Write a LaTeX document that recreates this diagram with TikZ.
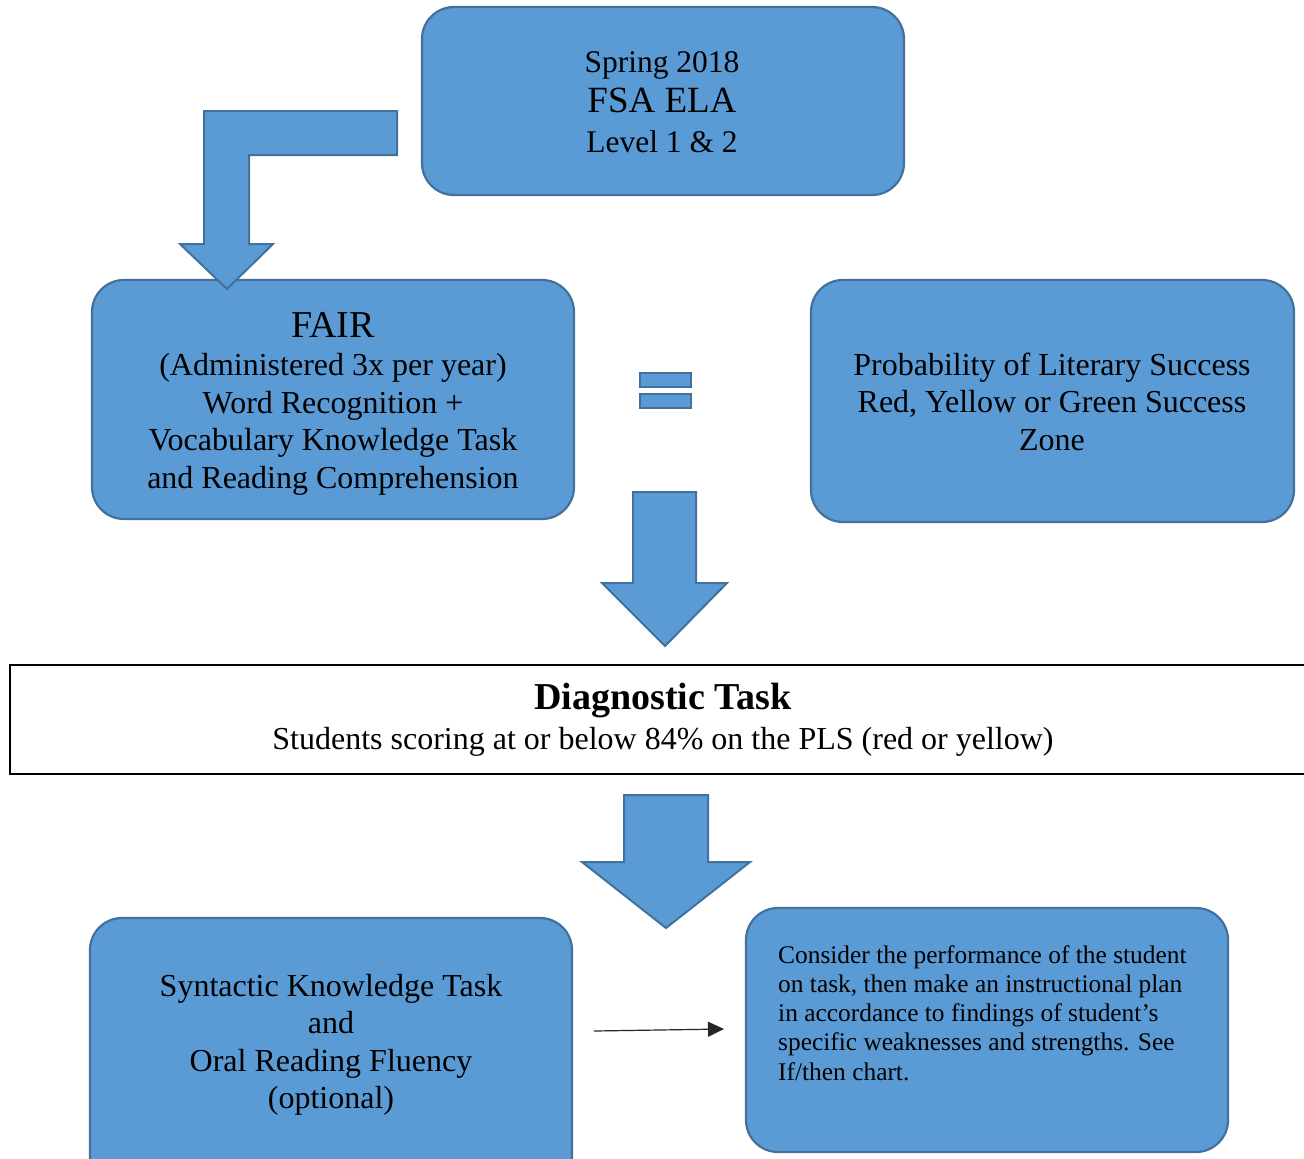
\documentclass[tikz,border=0pt]{standalone}
\usepackage{fontspec}
\usetikzlibrary{arrows.meta}
\setmainfont{Liberation Serif}
\definecolor{boxfill}{HTML}{5B9BD5}
\definecolor{boxline}{HTML}{41719C}
\begin{document}
\begin{tikzpicture}[x=1pt,y=-1pt,
  rbox/.style={draw=boxline, fill=boxfill, line width=2.2pt, rounded corners=32pt},
  barrow/.style={draw=boxline, fill=boxfill, line width=2pt, line join=miter},
  txt/.style={align=center, text=black, inner sep=0pt},
  big/.style={font=\fontsize{32}{37.5}\selectfont}
]
\useasboundingbox[fill=white] (0,0) rectangle (1304,1159);

% boxes
\draw[rbox] (422,7) rectangle (904,195);
\node[txt, font=\fontsize{31.5}{40}\selectfont] (top) at (662,102.5) {Spring 2018\\{\fontsize{37}{40}\selectfont FSA ELA}\\Level 1 \& 2};

\draw[rbox] (92,280) rectangle (574,519);
\node[txt,big] (fair) at (333,404) {{\fontsize{38}{37.5}\selectfont FAIR}\\[0.5pt](Administered 3x per year)\\Word Recognition +\\Vocabulary Knowledge Task\\and Reading Comprehension};

\draw[rbox] (811,280) rectangle (1294,522);
\node[txt,big] (pls) at (1052,401.5) {Probability of Literary Success\\Red, Yellow or Green Success\\Zone};

\draw[black, line width=2pt] (10,665) rectangle (1320,774);
\node[txt, font=\fontsize{32}{40}\selectfont] (diag) at (663,720) {{\fontsize{38}{40}\selectfont\bfseries Diagnostic Task}\\Students scoring at or below 84\% on the PLS (red or yellow)};

\draw[rbox] (90,918) rectangle (572,1200);
\node[txt,big] (syn) at (331,1045) {Syntactic Knowledge Task\\and\\Oral Reading Fluency\\(optional)};

\draw[rbox] (746,908) rectangle (1228,1152);
\node[align=left, anchor=north west, inner sep=0pt, font=\fontsize{25.4}{29.3}\selectfont] (plan) at (778,945) {Consider the performance of the student\\on task, then make an instructional plan\\in accordance to findings of student's\\specific weaknesses and strengths. See\\If/then chart.};

% bent arrow
\draw[barrow] (397,111) -- (204,111) -- (204,244) -- (180,244) -- (227,289) -- (273,244) -- (249,244) -- (249,155) -- (397,155) -- cycle;

% equals sign
\draw[barrow] (640,373) rectangle (691,387);
\draw[barrow] (640,394) rectangle (691,408);

% down arrows
\draw[barrow] (633,492) -- (696,492) -- (696,583) -- (727,583) -- (665,646) -- (602,583) -- (633,583) -- cycle;
\draw[barrow] (624,795) -- (708,795) -- (708,862) -- (750,862) -- (666,928) -- (582,862) -- (624,862) -- cycle;

% thin arrow
\coordinate (a1) at (594,1031);
\coordinate (a2) at (724,1029);
\draw[line width=1.2pt, draw=black!85, -{Triangle[length=16pt,width=15pt]}] (a1) -- (a2);
\end{tikzpicture}
\end{document}
